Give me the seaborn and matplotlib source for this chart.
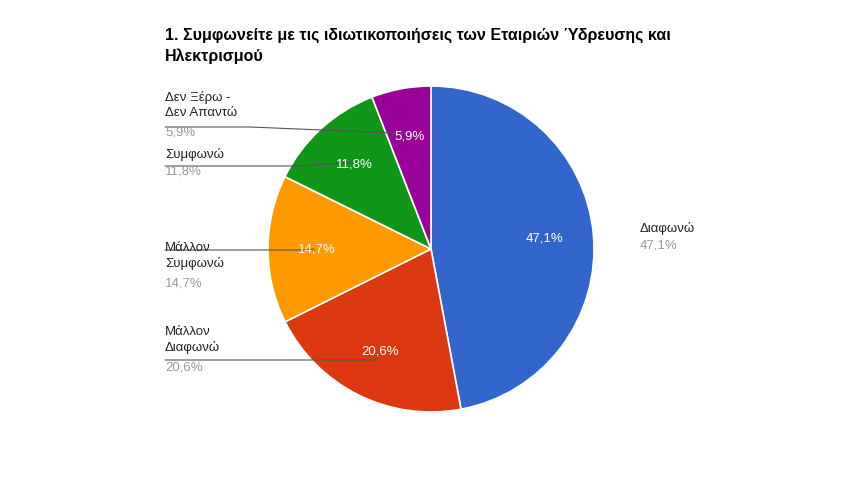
import numpy as np
import matplotlib
matplotlib.use('Agg')
import matplotlib.pyplot as plt
import seaborn as sns

labels = ['Διαφωνώ', 'Μάλλον\nΔιαφωνώ', 'Μάλλον\nΣυμφωνώ', 'Συμφωνώ', 'Δεν Ξέρω -\nΔεν Απαντώ']
values = [47.1, 20.6, 14.7, 11.8, 5.9]
colors = ['#3366cc', '#dc3912', '#ff9900', '#109618', '#990099']
title = '1. Συμφωνείτε με τις ιδιωτικοποιήσεις των Εταιριών Ύδρευσης και\nΗλεκτρισμού'

sns.set_theme(style='white')
plt.rcParams['font.family'] = ['Liberation Sans', 'DejaVu Sans']

def fmt(v):
    return f'{v:.1f}'.replace('.', ',') + '%'

W, H = 860, 500
fig = plt.figure(figsize=(8.6, 5), dpi=100)
cx, cy, r = 431, 251, 163
ax = fig.add_axes([(cx - r) / W, (cy - r) / H, 2 * r / W, 2 * r / H])
wedges, _ = ax.pie(values, colors=colors, startangle=90, counterclock=False,
                   wedgeprops=dict(edgecolor='white', linewidth=1.2))
ax.set_xlim(-1, 1)
ax.set_ylim(-1, 1)
ax.set_aspect('auto')

# inside percentages
for w, v in zip(wedges, values):
    a = np.deg2rad((w.theta1 + w.theta2) / 2)
    d = 0.7
    ax.text(d * np.cos(a), d * np.sin(a), fmt(v), color='white', fontsize=9.5,
            ha='center', va='center')

def px(x, y):
    return (x - cx) / r, (H - y - cy) / r

# outside labels: (text x, text y top, line y, line end x) in pixel coords
spots = [(640, 222, 240, 545, 'left'), (165, 326, 360, 375, 'left'),
         (165, 242, 250, 300, 'left'), (165, 148, 166, 300, 'left'),
         (165, 91, 127, 250, 'left')]
for (tx, ty, ly, lx, ha), lab, w, v in zip(spots, labels, wedges, values):
    nl = lab.count('\n') + 1
    x0, y0 = px(tx, ty)
    ax.text(x0, y0, lab, color='#222222', fontsize=9.5, ha=ha, va='top',
            linespacing=1.35, clip_on=False)
    x1, y1 = px(tx, ty + 18 * nl)
    ax.text(x1, y1, fmt(v), color='#999999', fontsize=9.5, ha=ha, va='top', clip_on=False)
    a = np.deg2rad((w.theta1 + w.theta2) / 2)
    ex, ey = 0.72 * np.cos(a), 0.72 * np.sin(a)
    if tx > cx:
        continue
    lx0, lyy = px(tx, ly)
    lx1, _ = px(lx, ly)
    ax.plot([lx0, lx1, ex], [lyy, lyy, ey], color='#555555', lw=0.8, clip_on=False)

fig.text(165 / W, 1 - 28 / H, title, fontsize=11.5, fontweight='bold', color='#000000',
         ha='left', va='top', linespacing=1.4)
fig.savefig('out.png', dpi=100, facecolor='white')
